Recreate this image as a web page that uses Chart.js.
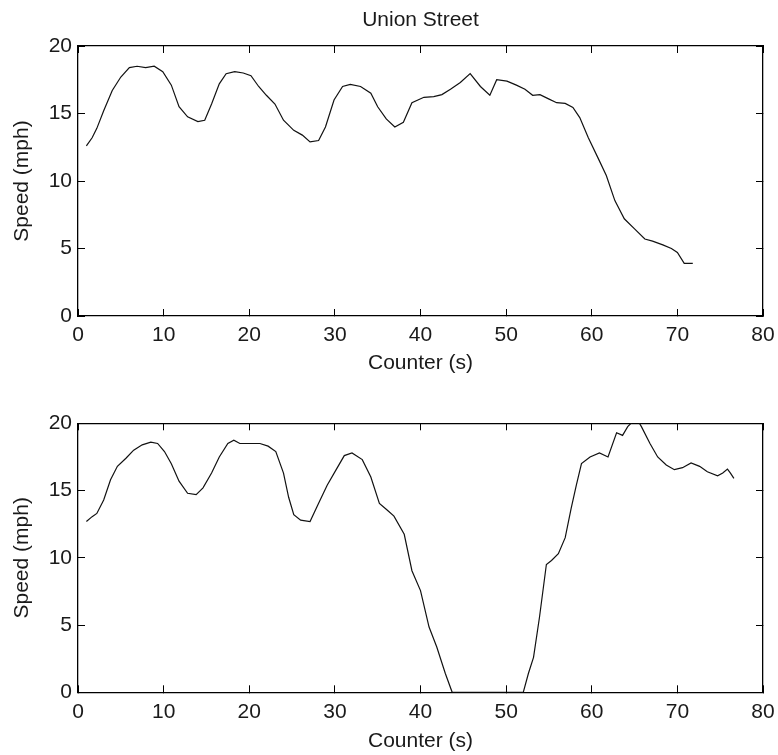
<!DOCTYPE html>
<html><head><meta charset="utf-8">
<script src="https://cdn.jsdelivr.net/npm/chart.js@4"></script>
<style>
html,body{margin:0;padding:0;background:#fff;}
#wrap{position:relative;width:778px;height:755px;background:#fff;}
canvas{position:absolute;left:0;}
</style></head><body>
<div id="wrap">
<canvas id="c1" width="778" height="378" style="top:0px;width:778px;height:378px"></canvas>
<canvas id="c2" width="778" height="377" style="top:378px;width:778px;height:377px"></canvas>
</div>
<script>
const chartTitle = 'Union Street';
const xAxisLabel = 'Counter (s)';
const yAxisLabel = 'Speed (mph)';
const xTickMin = 0, xTickMax = 80, xTickStep = 10;
const yTickMin = 0, yTickMax = 20, yTickStep = 5;

const topTime = [0.98,1.65,2.2,3.0,4.0,5.0,6.0,6.9,7.9,8.9,9.9,10.9,11.8,12.8,14.0,14.8,15.6,16.5,17.3,18.3,19.3,20.2,21.1,22.0,23.0,24.0,25.2,26.2,27.1,28.1,28.9,29.9,30.9,31.8,33.0,34.2,35.0,36.0,37.0,38.0,39.0,40.4,41.55,42.5,43.5,44.65,45.8,47.0,48.1,48.9,50.1,51.2,52.2,53.1,53.95,54.9,55.9,56.9,57.8,58.6,59.6,60.7,61.7,62.7,63.8,65.0,66.2,67.1,68.3,69.3,70.0,70.8,71.8];
const topSpeed = [12.6,13.2,13.9,15.2,16.7,17.7,18.4,18.5,18.4,18.5,18.1,17.1,15.5,14.75,14.4,14.5,15.7,17.2,17.95,18.1,18.0,17.8,17.0,16.35,15.7,14.5,13.75,13.4,12.9,13.0,14.0,16.0,17.0,17.15,17.0,16.5,15.5,14.6,14.0,14.35,15.8,16.2,16.25,16.4,16.8,17.3,17.95,17.0,16.35,17.5,17.4,17.1,16.8,16.35,16.4,16.1,15.8,15.75,15.45,14.7,13.2,11.75,10.4,8.55,7.2,6.45,5.7,5.55,5.27,5.0,4.7,3.9,3.9];

const bottomTime = [0.98,1.65,2.2,3.0,3.8,4.6,5.6,6.5,7.5,8.5,9.3,10.1,10.9,11.8,12.8,13.8,14.6,15.6,16.5,17.5,18.2,18.9,20.1,21.25,22.2,23.1,24.0,24.6,25.2,26.0,27.1,28.1,29.1,30.1,31.1,32.0,33.2,34.2,35.2,36.1,36.9,38.1,39.0,40.0,41.0,41.9,42.9,43.7,46.0,49.0,52.0,52.6,53.2,53.9,54.7,55.3,56.1,56.9,57.6,58.2,58.8,59.8,60.9,61.9,62.9,63.6,64.2,65.2,65.8,66.8,67.7,68.7,69.65,70.6,71.6,72.6,73.5,74.7,75.3,75.85,76.2,76.6];
const bottomSpeed = [12.7,13.06,13.3,14.3,15.8,16.8,17.4,18.0,18.4,18.6,18.5,17.9,17.0,15.7,14.8,14.7,15.2,16.3,17.5,18.5,18.75,18.5,18.5,18.5,18.3,17.9,16.3,14.5,13.2,12.8,12.7,14.05,15.4,16.5,17.6,17.8,17.3,16.0,14.05,13.55,13.1,11.75,9.04,7.56,4.85,3.37,1.4,0,0,0,0,1.4,2.6,5.6,9.5,9.8,10.3,11.5,13.7,15.4,17.0,17.5,17.8,17.5,19.3,19.1,19.75,20.4,19.75,18.5,17.5,16.9,16.55,16.7,17.05,16.8,16.4,16.1,16.3,16.6,16.3,15.9];

const FONT = {family: "'Liberation Sans', Arial, sans-serif", size: 21, weight: 'normal'};
const TXT = '#1a1a1a';

function axisCommon(pos, min, max, step, showLabels, pad) {
  return {
    type: 'linear', position: pos, min: min, max: max,
    ticks: {display: showLabels, stepSize: step, font: FONT, color: TXT, padding: pad,
            maxRotation: 0, minRotation: 0, autoSkip: false},
    grid: {drawOnChartArea: false, drawTicks: true, tickLength: -7, color: '#000', lineWidth: 1},
    border: {display: true, color: '#000', width: 1.3}
  };
}

function makeChart(id, xs, ys, opts) {
  const pts = xs.map((x, i) => ({x: x, y: ys[i]}));
  const x = axisCommon('bottom', xTickMin, xTickMax, xTickStep, true, 14);
  x.title = {display: true, text: xAxisLabel, font: FONT, color: TXT, padding: {top: 0, bottom: opts.xTitlePad}};
  x.afterFit = s => { s.height = opts.xHeight; s.paddingLeft = 0; s.paddingRight = 0; };
  const x2 = axisCommon('top', xTickMin, xTickMax, xTickStep, false, 0);
  x2.afterFit = s => { s.height = 0; s.paddingLeft = 0; s.paddingRight = 0; };
  const y = axisCommon('left', yTickMin, yTickMax, yTickStep, true, 13);
  y.title = {display: true, text: yAxisLabel, font: FONT, color: TXT, padding: {top: 9.5, bottom: 0}};
  y.afterFit = s => { s.width = 78; s.paddingTop = 0; s.paddingBottom = 0; };
  const y2 = axisCommon('right', yTickMin, yTickMax, yTickStep, false, 0);
  y2.afterFit = s => { s.width = 0; s.paddingTop = 0; s.paddingBottom = 0; };
  return new Chart(document.getElementById(id), {
    type: 'line',
    data: {datasets: [{data: pts, borderColor: '#111', borderWidth: 1.2, pointRadius: 0, tension: 0, fill: false}]},
    options: {
      responsive: false, animation: false, devicePixelRatio: 1,
      layout: {padding: {top: opts.padTop, right: 15, left: 0, bottom: 0}},
      plugins: {
        legend: {display: false}, tooltip: {enabled: false},
        title: opts.title ? {display: true, fullSize: false, text: opts.title, font: FONT, color: TXT, padding: {top: 7.4, bottom: 13.4}} : {display: false}
      },
      scales: {x: x, x2: x2, y: y, y2: y2}
    }
  });
}

makeChart('c1', topTime, topSpeed, {title: chartTitle, padTop: 0, xHeight: 62, xTitlePad: 2.2});
makeChart('c2', bottomTime, bottomSpeed, {title: null, padTop: 45.3, xHeight: 62.7, xTitlePad: 1.2});
</script>
</body></html>
